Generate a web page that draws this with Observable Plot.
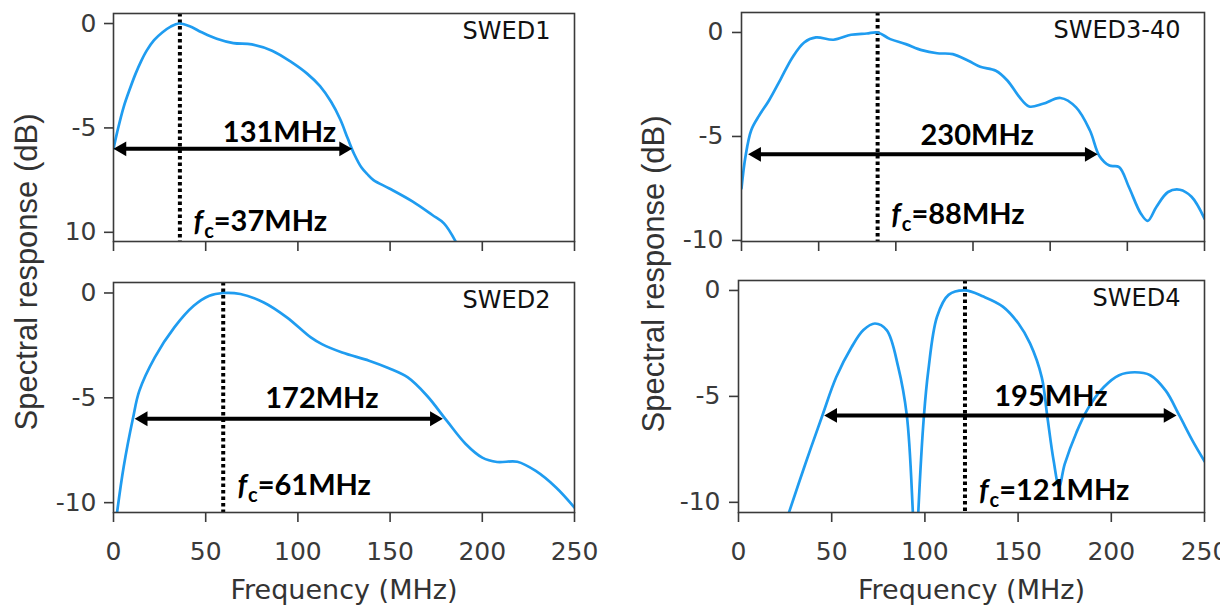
<!DOCTYPE html>
<html><head><meta charset="utf-8">
<script src="https://cdn.jsdelivr.net/npm/d3@7"></script>
<script src="https://cdn.jsdelivr.net/npm/@observablehq/plot@0.6"></script>
<style>
html,body{margin:0;padding:0;overflow:hidden;background:#fff;}
#chart{position:relative;width:1240px;height:605px;}
#chart svg{position:absolute;left:0;top:0;}
.ylab{position:absolute;font-family:"Liberation Sans",Arial,sans-serif;font-size:31px;color:#333;white-space:nowrap;transform:translate(-50%,-50%) rotate(-90deg);}
</style></head><body>
<div id="chart"></div>
<script>
// ---------- data ----------
const panelNames = ["SWED1", "SWED2", "SWED3-40", "SWED4"];

const freq1 = [0, 2, 5.5, 9, 12, 15, 18, 22, 26.6, 31, 35.5, 41, 47.8, 56, 65, 75, 86, 96.5, 105, 112, 118, 123, 127, 130.5, 134.5, 137.5, 141, 149.6, 162.3, 172.9, 179.2, 185.5];
const resp1 = [-6.0, -5.2, -4.0, -3.1, -2.4, -1.8, -1.3, -0.8, -0.42, -0.15, 0, -0.12, -0.42, -0.73, -0.94, -1.0, -1.3, -1.85, -2.4, -3.0, -3.75, -4.6, -5.5, -6.25, -6.9, -7.2, -7.5, -7.9, -8.53, -9.17, -9.57, -10.43];

const freq2 = [1.9, 5.5, 10.5, 14, 22.4, 33, 43.5, 52, 59.4, 68.8, 81.5, 94, 107, 113, 124, 138.6, 149, 159.6, 170, 180.8, 191, 200, 208, 219, 229, 240, 250];
const resp2 = [-10.49, -8.3, -6.0, -4.67, -3.07, -1.64, -0.61, -0.13, 0, -0.05, -0.45, -1.16, -2.12, -2.44, -2.84, -3.23, -3.58, -4.03, -4.9, -6.1, -7.2, -7.85, -8.06, -8.05, -8.49, -9.28, -10.24];

const freq3 = [0, 2.5, 6.3, 11.4, 17.8, 25.4, 33, 40.6, 48.2, 59.6, 71, 81.1, 88.2, 96.4, 106.5, 116.7, 126.8, 136.9, 147, 154.7, 164.8, 172.4, 180, 186.4, 195.3, 206.7, 216.8, 225.7, 232, 238.4, 244.7, 251, 258.7, 263.2, 268.8, 276.4, 284, 291.6, 300];
const resp3 = [-7.5, -6.0, -4.7, -4.0, -3.27, -2.24, -1.2, -0.48, -0.24, -0.35, -0.11, -0.05, 0, -0.32, -0.56, -0.85, -1.0, -1.04, -1.36, -1.65, -1.84, -2.32, -3.1, -3.56, -3.43, -3.15, -3.6, -4.7, -5.95, -6.4, -6.47, -7.43, -8.7, -9.06, -8.39, -7.67, -7.56, -7.9, -8.95];

const freq4 = [27, 35.8, 45, 52.4, 60.7, 67, 73.2, 79.5, 85.7, 90.3, 93.5, 95, 96.5, 99.5, 101.8, 106.5, 112.7, 121.5, 131.4, 141.8, 150.2, 156.4, 162.7, 165.6, 169, 172, 175, 181.3, 187.3, 195.9, 204.2, 212.6, 220.9, 229.2, 236.5, 243.7, 250];
const resp4 = [-10.5, -8.2, -5.9, -4.1, -2.67, -1.87, -1.56, -1.87, -3.62, -5.9, -10.4, -14, -10.4, -5.9, -3.8, -1.24, -0.21, 0, -0.29, -0.76, -1.56, -2.5, -4.1, -5.9, -8.0, -9.25, -8.2, -6.7, -5.6, -4.57, -4.0, -3.86, -4.0, -4.73, -5.9, -7.11, -8.06];

const freqs = [freq1, freq2, freq3, freq4];
const resps = [resp1, resp2, resp3, resp4];

// centre-frequency markers and bandwidth arrows
const fcLine = [36, 59.5, 88.2, 121.5];
const fcText = ["37MHz", "61MHz", "88MHz", "121MHz"];
const fcTextX = [43.4, 67.2, 97, 129];
const fcTextY = [-9.5, -9.2, -8.76, -9.45];
const bwText = ["131MHz", "172MHz", "230MHz", "195MHz"];
const bwTextX = [90, 113, 152.7, 167.6];
const bwTextY = [-5.22, -5.05, -4.97, -5.02];
const bwStart = [0, 11.5, 4.3, 46];
const bwEnd = [129.4, 178.6, 230.8, 235];
const bwLevel = [-6, -6, -5.86, -5.9];

// axes
const xTicks = [0, 50, 100, 150, 200, 250];
const xTicks3 = [0, 50, 100, 150, 200, 250, 300];
const yTicks = [0, -5, -10];
const yTickText1 = ["0", "-5", "10"];
const yTickText = ["0", "-5", "-10"];
const xTitle = "Frequency (MHz)";
const yTitle = "Spectral response (dB)";

// ---------- layout ----------
const W = 1240, H = 605;
const layout = [
  {ml: 113, mr: W - 574, mt: 13, mb: H - 241, xd: [0, 250], yd: [-10.44, 0.48], xt: xTicks, xLab: false, yt: yTickText1, yPad: 8},
  {ml: 113, mr: W - 574, mt: 282, mb: H - 512, xd: [0, 250], yd: [-10.47, 0.5], xt: xTicks, xLab: true, yt: yTickText, yPad: 8},
  {ml: 741, mr: W - 1204, mt: 12, mb: H - 241, xd: [0, 300], yd: [-10.05, 0.96], xt: xTicks3, xLab: false, yt: yTickText, yPad: 9},
  {ml: 738, mr: W - 1204, mt: 280, mb: H - 512, xd: [0, 250], yd: [-10.48, 0.47], xt: xTicks, xLab: true, yt: yTickText, yPad: 9}
];

const chart = document.getElementById("chart");
const BLUE = "#1f9cf0";
const AXIS = "#3a3a3a";
const boldFont = "Lato, 'Open Sans', sans-serif";

layout.forEach((L, i) => {
  const curveData = freqs[i].map((f, j) => ({f, r: resps[i][j]}));
  const bw = [{a: bwStart[i], b: bwEnd[i], y: bwLevel[i]}];
  const marks = [
    Plot.ruleX([fcLine[i]], {x: d => d, stroke: "black", strokeWidth: 4, strokeDasharray: "3.5,3"}),
    Plot.line(curveData, {x: "f", y: "r", stroke: BLUE, strokeWidth: 2.7, curve: "catmull-rom", clip: true}),
    Plot.frame({stroke: AXIS, strokeWidth: 1.6}),
    Plot.axisY(yTicks, {tickSize: 9, tickPadding: L.yPad, fontSize: 25, strokeWidth: 1.6, label: null,
      tickFormat: d => L.yt[yTicks.indexOf(d)]}),
    Plot.axisX(L.xt, {tickSize: 10, tickPadding: 20, fontSize: 25, strokeWidth: 1.6, label: null,
      tickFormat: d => (L.xLab ? String(d) : "")}),
    Plot.ruleY(bw, {x1: "a", x2: "b", y: "y", stroke: "black", strokeWidth: 4, insetLeft: 7, insetRight: 7}),
    Plot.dot(bw, {x: "b", y: "y", symbol: "triangle", r: 5.5, rotate: 90, fill: "black", stroke: null, dx: -8.5}),
    Plot.dot(bw, {x: "a", y: "y", symbol: "triangle", r: 5.5, rotate: -90, fill: "black", stroke: null, dx: 8.5}),
    Plot.text([{x: bwTextX[i], y: bwTextY[i], t: bwText[i]}], {x: "x", y: "y", text: "t", fontFamily: boldFont,
      fontWeight: "bold", fontSize: 29, fill: "black", textAnchor: "middle", lineAnchor: "middle"}),
    Plot.text([{x: fcTextX[i], y: fcTextY[i], t: "fc=" + fcText[i]}], {x: "x", y: "y", text: "t", fontFamily: boldFont,
      fontWeight: "bold", fontSize: 29, fill: "black", textAnchor: "start", lineAnchor: "middle"}),
    Plot.text([panelNames[i]], {text: d => d, frameAnchor: "top-right", dx: -24, dy: 18, textAnchor: "end",
      lineAnchor: "middle", fontSize: 24, fill: "#111"})
  ];
  if (L.xLab) {
    marks.push(Plot.text([xTitle], {text: d => d, frameAnchor: "bottom", dy: 78, lineAnchor: "middle", fontSize: 27, fill: "#333"}));
  }
  const svg = Plot.plot({
    width: W, height: H,
    marginLeft: L.ml, marginRight: L.mr, marginTop: L.mt, marginBottom: L.mb,
    x: {domain: L.xd, label: null},
    y: {domain: L.yd, label: null},
    style: {background: "transparent", fontFamily: "'DejaVu Sans', sans-serif", color: AXIS, overflow: "visible"},
    marks
  });
  // rich text for f_c labels
  svg.querySelectorAll("text").forEach(t => {
    const s = t.textContent;
    if (s.startsWith("fc=")) {
      const rest = s.slice(2);
      while (t.firstChild) t.removeChild(t.firstChild);
      const ns = "http://www.w3.org/2000/svg";
      const a = document.createElementNS(ns, "tspan");
      a.setAttribute("font-style", "italic"); a.textContent = "f";
      const b = document.createElementNS(ns, "tspan");
      b.setAttribute("font-size", "20"); b.setAttribute("dy", "7"); b.setAttribute("dx", "1"); b.textContent = "c";
      const c = document.createElementNS(ns, "tspan");
      c.setAttribute("dy", "-7"); c.textContent = rest;
      t.appendChild(a); t.appendChild(b); t.appendChild(c);
    }
  });
  chart.appendChild(svg);
});

// shared y-axis titles
[[27, 272], [654, 274]].forEach(([x, y]) => {
  const d = document.createElement("div");
  d.className = "ylab";
  d.style.left = x + "px";
  d.style.top = y + "px";
  d.textContent = yTitle;
  chart.appendChild(d);
});
</script></body></html>
